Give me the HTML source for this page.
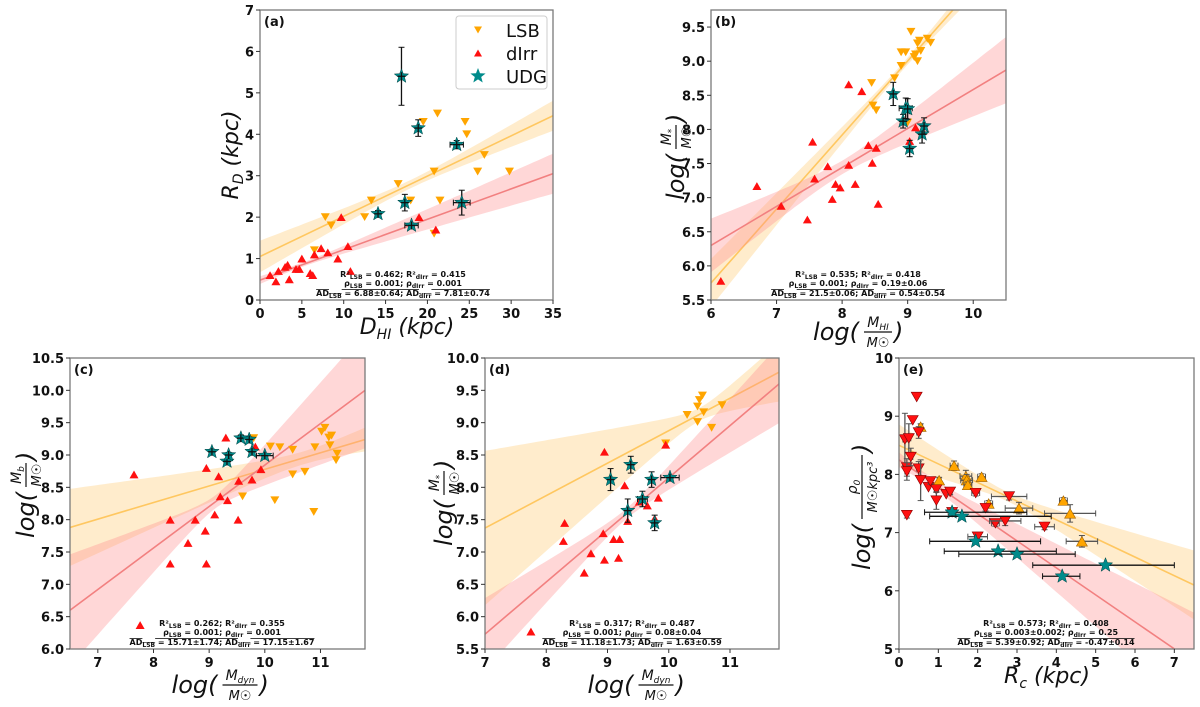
<!DOCTYPE html>
<html><head><meta charset="utf-8"><title>Scaling relations of LSB, dIrr and UDG galaxies</title>
<style>
html,body{margin:0;padding:0;background:#fff;}
svg{display:block;font-family:"DejaVu Sans","Liberation Sans",sans-serif;}
.tick{font-size:13px;font-weight:bold;fill:#111;}
.ann{font-size:8px;font-weight:bold;fill:#111;}
.lab{font-style:italic;fill:#111;}
</style></head>
<body>
<svg id="fig" width="1200" height="707" viewBox="0 0 1200 707" xmlns="http://www.w3.org/2000/svg">
<defs>
<clipPath id="clip-a"><rect x="260" y="10" width="293" height="290"/></clipPath>
<clipPath id="clip-b"><rect x="711" y="10" width="295" height="290"/></clipPath>
<clipPath id="clip-c"><rect x="70" y="358" width="295" height="291"/></clipPath>
<clipPath id="clip-d"><rect x="485" y="358" width="294" height="291"/></clipPath>
<clipPath id="clip-e"><rect x="899" y="358" width="295" height="291"/></clipPath>
</defs>
</svg>
<script>
// ---------- Panel (a): R_D vs D_HI ----------
const aLsbX=[6.5,7.8,8.5,12.5,13.3,16.5,18,19.5,20.8,21.2,21.5,20.8,24.5,24.7,26,26.8,29.8];
const aLsbY=[1.2,2.0,1.8,2.0,2.4,2.8,2.4,4.3,3.1,4.5,2.4,1.6,4.3,4.0,3.1,3.5,3.1];
const aIrrX=[1.2,1.9,2.2,3,3.3,3.5,4.3,4.7,5,6,6.3,6.5,7.3,8.1,9.3,9.7,10.5,10.8,19,21];
const aIrrY=[0.6,0.45,0.7,0.8,0.85,0.5,0.75,0.75,1.0,0.65,0.6,1.1,1.25,1.15,1.0,2.0,1.3,0.7,2.0,1.7];
const aUdgX=[14.1,16.9,17.3,18.1,18.9,23.5,24.1];
const aUdgY=[2.08,5.4,2.35,1.8,4.15,3.75,2.35];
const aUdgXe=[0.3,0,0,0.8,0,0.8,1.0];
const aUdgYe=[0.08,0.7,0.2,0.05,0.2,0.1,0.3];
const aFitLsb=[0.0971,1.05,18,0.1,0.0205];  // slope, intercept, xmean, w0, k
const aFitIrr=[0.0734,0.48,5,0.05,0.016];
const aTicksX=[0,5,10,15,20,25,30,35];
const aTicksY=[0,1,2,3,4,5,6,7];
const aAnn=["R²LSB = 0.462;   R²dIrr = 0.415","ρLSB = 0.001;   ρdIrr = 0.001","ADLSB = 6.88±0.64;   ADdIrr = 7.81±0.74"];

// ---------- Panel (b): log M* vs log MHI ----------
const bLsbX=[8.45,8.47,8.52,8.8,8.9,8.9,8.97,9.0,9.05,9.1,9.12,9.15,9.15,9.18,9.2,9.3,9.35];
const bLsbY=[8.68,8.35,8.28,8.75,8.93,9.13,9.13,8.1,9.43,9.06,9.1,9.0,9.26,9.3,9.15,9.33,9.27];
const bIrrX=[6.15,6.7,7.07,7.47,7.55,7.58,7.78,7.85,7.9,7.97,8.1,8.1,8.2,8.3,8.4,8.46,8.52,8.55,9.03,9.12];
const bIrrY=[5.78,7.17,6.88,6.68,7.82,7.28,7.46,6.98,7.2,7.15,8.66,7.48,7.2,8.56,7.77,7.51,7.73,6.91,7.83,8.03];
const bUdgX=[8.78,8.93,8.97,9.0,9.03,9.22,9.25];
const bUdgY=[8.52,8.12,8.31,8.3,7.72,7.93,8.05];
const bUdgXe=[0,0,0.1,0,0,0,0];
const bUdgYe=[0.17,0.1,0.15,0.15,0.12,0.13,0.12];
const bFitLsb=[1.084,-0.754,8.9,0.05,0.12];
const bFitIrr=[0.571,2.874,8.0,0.1,0.19];
const bTicksX=[6,7,8,9,10];
const bTicksY=[5.5,6.0,6.5,7.0,7.5,8.0,8.5,9.0,9.5];
const bAnn=["R²LSB = 0.535;   R²dIrr = 0.418","ρLSB = 0.001;   ρdIrr = 0.19±0.06","ADLSB = 21.5±0.06;   ADdIrr = 0.54±0.54"];

// ---------- Panel (c): log Mb vs log Mdyn ----------
const cLsbX=[9.6,9.8,10.1,10.18,10.27,10.5,10.5,10.72,10.88,10.9,11.02,11.08,11.15,11.17,11.2,11.28,11.3];
const cLsbY=[8.36,9.26,9.13,8.3,9.12,9.08,8.7,8.74,8.12,9.12,9.36,9.42,9.27,9.15,9.3,8.92,9.02];
const cIrrX=[7.65,8.3,8.3,8.62,8.75,8.93,8.95,8.95,9.1,9.17,9.2,9.3,9.33,9.52,9.53,9.77,9.83,9.93,7.76];
const cIrrY=[8.7,8.0,7.32,7.64,8.0,7.83,8.8,7.32,8.08,8.67,8.36,9.27,8.3,8.0,8.6,8.62,9.13,8.78,6.37];
const cUdgX=[9.05,9.32,9.35,9.57,9.72,9.77,10.0];
const cUdgY=[9.05,8.9,9.0,9.26,9.24,9.05,8.99];
const cUdgXe=[0,0,0,0.05,0,0,0.15];
const cUdgYe=[0.04,0.04,0.04,0.05,0.04,0.04,0.03];
const cFitLsb=[0.2566,6.212,10.7,0.1,0.14];
const cFitIrr=[0.6415,2.43,9.1,0.1,0.33];
const cTicksX=[7,8,9,10,11];
const cTicksY=[6.0,6.5,7.0,7.5,8.0,8.5,9.0,9.5,10.0,10.5];
const cAnn=["R²LSB = 0.262;   R²dIrr = 0.355","ρLSB = 0.001;   ρdIrr = 0.001","ADLSB = 15.71±1.74;   ADdIrr = 17.15±1.67"];

// ---------- Panel (d): log M* vs log Mdyn ----------
const dLsbX=[9.95,10.3,10.47,10.47,10.5,10.55,10.57,10.7,10.87];
const dLsbY=[8.68,9.12,9.01,9.25,9.35,9.42,9.16,8.92,9.27];
const dIrrX=[7.75,8.28,8.3,8.62,8.73,8.93,8.95,8.95,9.1,9.18,9.2,9.28,9.33,9.52,9.65,9.77,9.83,9.95];
const dIrrY=[5.77,7.17,7.45,6.68,6.98,7.29,8.55,6.88,7.2,6.91,7.2,8.03,7.48,7.78,7.72,7.52,7.84,8.66];
const dUdgX=[9.05,9.33,9.38,9.57,9.72,9.77,10.02];
const dUdgY=[8.12,7.64,8.35,7.82,8.12,7.45,8.15];
const dUdgXe=[0,0,0,0.08,0,0,0.15];
const dUdgYe=[0.17,0.18,0.13,0.12,0.12,0.12,0.02];
const dFitLsb=[0.502,3.856,10.5,0.1,0.34];
const dFitIrr=[0.806,0.088,9.3,0.08,0.24];
const dTicksX=[7,8,9,10,11];
const dTicksY=[5.5,6.0,6.5,7.0,7.5,8.0,8.5,9.0,9.5,10.0];
const dAnn=["R²LSB = 0.317;   R²dIrr = 0.487","ρLSB = 0.001;   ρdIrr = 0.08±0.04","ADLSB = 11.18±1.73;   ADdIrr = 1.63±0.59"];

// ---------- Panel (e): log rho0 vs Rc ----------
const eIrrX=[0.15,0.2,0.2,0.2,0.25,0.3,0.35,0.45,0.5,0.5,0.55,0.75,0.8,0.95,0.95,1.2,1.3,1.95,2.2,2.45,2.7,2.8,2.0,3.7,1.35];
const eIrrY=[8.6,8.12,8.05,7.3,8.62,8.3,8.93,9.33,8.72,8.1,7.9,7.78,7.88,7.74,7.55,7.66,7.7,7.68,7.42,7.16,7.2,7.62,6.93,7.1,7.35];
const eIrrXe=[0.05,0.05,0.05,0,0.05,0.05,0,0,0.05,0.05,0,0,0.05,0.05,0,0,0.05,0.1,0,0.1,0.4,0.45,0.25,0.25,0.1];
const eIrrYe=[0.45,0.15,0.15,0.05,0.25,0.15,0,0,0.1,0.12,0.35,0,0.05,0.05,0.15,0,0.05,0.05,0.05,0.05,0.08,0.06,0.05,0.05,0.05];
const eLsbX=[0.55,1.02,1.4,1.7,1.72,1.75,2.1,2.28,3.05,4.18,4.35,4.65];
const eLsbY=[8.82,7.9,8.15,7.97,7.9,7.82,7.96,7.5,7.42,7.55,7.33,6.85];
const eLsbXe=[0.05,0.05,0.1,0.15,0.15,0.1,0.1,0.1,0.35,0.1,0.65,0.4];
const eLsbYe=[0.05,0.05,0.08,0.1,0.1,0.05,0.05,0.05,0.1,0.05,0.15,0.1];
const eUdgX=[1.35,1.6,1.95,2.52,3.0,4.15,5.25];
const eUdgY=[7.35,7.28,6.85,6.68,6.63,6.25,6.44];
const eUdgXlo=[0.65,0.78,0.78,1.15,1.52,3.65,3.4];
const eUdgXhi=[3.25,3.87,3.6,4.0,4.48,4.6,7.0];
const eFitLsb=[-0.32,8.5,2.8,0.08,0.125];
const eFitIrr=[-0.464,8.25,0.8,0.08,0.127];
const eTicksX=[0,1,2,3,4,5,6,7];
const eTicksY=[5,6,7,8,9,10];
const eAnn=["R²LSB = 0.573;   R²dIrr = 0.408","ρLSB = 0.003±0.002;   ρdIrr = 0.25","ADLSB = 5.39±0.92;   ADdIrr = -0.47±0.14"];

const NS="http://www.w3.org/2000/svg";
const svg=document.getElementById('fig');
function el(tag,attrs,parent){const e=document.createElementNS(NS,tag);for(const k in attrs)e.setAttribute(k,attrs[k]);(parent||svg).appendChild(e);return e;}

const LSB_C="#FFA500", IRR_C="#FF1010", UDG_C="#008B8B";
const LSB_LINE="#FFC760", IRR_LINE="#F28080";
const LSB_BAND="rgba(255,200,110,0.35)", IRR_BAND="rgba(255,140,140,0.35)";

function starPath(cx,cy,r){let d="";for(let i=0;i<10;i++){const rr=i%2?r*0.42:r;const a=-Math.PI/2+i*Math.PI/5;d+=(i?"L":"M")+(cx+rr*Math.cos(a)).toFixed(1)+","+(cy+rr*Math.sin(a)).toFixed(1);}return d+"Z";}
function triPath(cx,cy,s,down){const h=s*0.87;return down?`M${cx-s/2},${cy-h/2}L${cx+s/2},${cy-h/2}L${cx},${cy+h/2}Z`:`M${cx-s/2},${cy+h/2}L${cx+s/2},${cy+h/2}L${cx},${cy-h/2}Z`;}

function panel(P){
  const g=el('g',{});
  
  
  const sx=v=>P.x0+(v-P.xmin)/(P.xmax-P.xmin)*(P.x1-P.x0);
  const sy=v=>P.y1-(v-P.ymin)/(P.ymax-P.ymin)*(P.y1-P.y0);
  const plot=el('g',{'clip-path':'url(#clip-'+P.id+')'},g);
  
  
  [[P.fitLsb,LSB_BAND,LSB_LINE,'lsb'],[P.fitIrr,IRR_BAND,IRR_LINE,'dirr']].forEach(([f,bc,lc,nm])=>{
    const up=[],lo=[];const N=60;
    for(let i=0;i<=N;i++){const x=P.xmin+(P.xmax-P.xmin)*i/N;const y=f[0]*x+f[1];const w=Math.sqrt(f[3]*f[3]+f[4]*f[4]*(x-f[2])*(x-f[2]));up.push(sx(x).toFixed(1)+","+sy(y+w).toFixed(1));lo.unshift(sx(x).toFixed(1)+","+sy(y-w).toFixed(1));}
    const b=el('polygon',{points:up.concat(lo).join(" "),fill:bc,stroke:'none'},plot);
    
    
    const l=el('line',{x1:sx(P.xmin),y1:sy(f[0]*P.xmin+f[1]),x2:sx(P.xmax),y2:sy(f[0]*P.xmax+f[1]),stroke:lc,'stroke-width':1.6},plot);
    
    
  });
  const big=P.id==='e';
  const ebar=(x,y,xe,ye,col,xlo,xhi)=>{
    if(xlo!==undefined){const e=el('line',{x1:sx(xlo),y1:sy(y),x2:sx(xhi),y2:sy(y),stroke:col,'stroke-width':1.3},plot);
      
      
      el('line',{x1:sx(xlo),y1:sy(y)-3,x2:sx(xlo),y2:sy(y)+3,stroke:col,'stroke-width':1},plot);el('line',{x1:sx(xhi),y1:sy(y)-3,x2:sx(xhi),y2:sy(y)+3,stroke:col,'stroke-width':1},plot);}
    if(xe>0){const e=el('line',{x1:sx(x-xe),y1:sy(y),x2:sx(x+xe),y2:sy(y),stroke:col,'stroke-width':1.3},plot);
      
      
      el('line',{x1:sx(x-xe),y1:sy(y)-3,x2:sx(x-xe),y2:sy(y)+3,stroke:col,'stroke-width':1},plot);el('line',{x1:sx(x+xe),y1:sy(y)-3,x2:sx(x+xe),y2:sy(y)+3,stroke:col,'stroke-width':1},plot);}
    if(ye>0){const e=el('line',{x1:sx(x),y1:sy(y-ye),x2:sx(x),y2:sy(y+ye),stroke:col,'stroke-width':1.3},plot);
      
      
      el('line',{x1:sx(x)-3,y1:sy(y-ye),x2:sx(x)+3,y2:sy(y-ye),stroke:col,'stroke-width':1},plot);el('line',{x1:sx(x)-3,y1:sy(y+ye),x2:sx(x)+3,y2:sy(y+ye),stroke:col,'stroke-width':1},plot);}
  };
  P.lsbX.forEach((x,i)=>{
    if(P.lsbXe) ebar(x,P.lsbY[i],P.lsbXe[i],P.lsbYe[i],'#555');
    const m=el('path',{d:triPath(sx(x),sy(P.lsbY[i]),big?11:9,!big),fill:LSB_C,stroke:big?'#a06000':'none','stroke-width':0.6},plot);
    
    
  });
  P.irrX.forEach((x,i)=>{
    if(P.irrXe) ebar(x,P.irrY[i],P.irrXe[i],P.irrYe[i],'#555');
    const m=el('path',{d:triPath(sx(x),sy(P.irrY[i]),big?11:9,big),fill:IRR_C,stroke:big?'#800':'none','stroke-width':0.6},plot);
    
    
  });
  P.udgX.forEach((x,i)=>{
    if(P.udgXlo) ebar(x,P.udgY[i],0,0,'#111',P.udgXlo[i],P.udgXhi[i]);
    else ebar(x,P.udgY[i],P.udgXe[i],P.udgYe[i],'#111');
    const m=el('path',{d:starPath(sx(x),sy(P.udgY[i]),7.5),fill:UDG_C,stroke:'#044','stroke-width':0.5},plot);
    
    
    if(!P.udgXlo){el('line',{x1:sx(x),y1:sy(P.udgY[i])-4,x2:sx(x),y2:sy(P.udgY[i])+4,stroke:'#111','stroke-width':1.3},plot);el('line',{x1:sx(x)-4,y1:sy(P.udgY[i]),x2:sx(x)+4,y2:sy(P.udgY[i]),stroke:'#111','stroke-width':1.3},plot);}
  });
  const fr=el('rect',{x:P.x0,y:P.y0,width:P.x1-P.x0,height:P.y1-P.y0,fill:'none',stroke:'#7a7a7a','stroke-width':1.3},g);
  
  
  P.ticksX.forEach(t=>{const x=sx(t);el('line',{x1:x,y1:P.y1,x2:x,y2:P.y1+4,stroke:'#333','stroke-width':1},g);
    const tx=el('text',{x:x,y:P.y1+18,'text-anchor':'middle',class:'tick'},g);tx.textContent=P.fmtX(t);
    
    });
  P.ticksY.forEach(t=>{const y=sy(t);el('line',{x1:P.x0-4,y1:y,x2:P.x0,y2:y,stroke:'#333','stroke-width':1},g);
    const tx=el('text',{x:P.x0-6,y:y+5,'text-anchor':'end',class:'tick'},g);tx.textContent=P.fmtY(t);
    
    });
  const pl=el('text',{x:P.x0+4,y:P.y0+16,class:'tick'},g);pl.textContent='('+P.id+')';
  
  
  const cx=P.annX, ys=[P.y1-23,P.y1-14,P.y1-4];
  P.ann.forEach((s,i)=>{
    const t=el('text',{x:cx,y:ys[i],'text-anchor':'middle',class:'ann'},g);
    
    
    const parts=s.split(/(LSB|dIrr)/);
    parts.forEach(p=>{const sp=el('tspan',{},t);
      if(p==='LSB'||p==='dIrr'){sp.setAttribute('font-size','6');sp.setAttribute('dy','2');sp.textContent=p;}
      else{sp.setAttribute('dy',t.childNodes.length>1?'-2':'0');sp.textContent=p;}});
    if(i===2){t.setAttribute('text-decoration','overline');}
  });
}

const f0=v=>String(v), f1=v=>v.toFixed(1);
panel({id:'a',x0:260,x1:553,y0:10,y1:300,xmin:0,xmax:35,ymin:0,ymax:7,ticksX:aTicksX,ticksY:aTicksY,fmtX:f0,fmtY:f0,
  lsbX:aLsbX,lsbY:aLsbY,irrX:aIrrX,irrY:aIrrY,udgX:aUdgX,udgY:aUdgY,udgXe:aUdgXe,udgYe:aUdgYe,fitLsb:aFitLsb,fitIrr:aFitIrr,ann:aAnn,annX:403});
panel({id:'b',x0:711,x1:1006,y0:10,y1:300,xmin:6,xmax:10.5,ymin:5.5,ymax:9.75,ticksX:bTicksX,ticksY:bTicksY,fmtX:f0,fmtY:f1,
  lsbX:bLsbX,lsbY:bLsbY,irrX:bIrrX,irrY:bIrrY,udgX:bUdgX,udgY:bUdgY,udgXe:bUdgXe,udgYe:bUdgYe,fitLsb:bFitLsb,fitIrr:bFitIrr,ann:bAnn,annX:858});
panel({id:'c',x0:70,x1:365,y0:358,y1:649,xmin:6.5,xmax:11.8,ymin:6,ymax:10.5,ticksX:cTicksX,ticksY:cTicksY,fmtX:f0,fmtY:f1,
  lsbX:cLsbX,lsbY:cLsbY,irrX:cIrrX,irrY:cIrrY,udgX:cUdgX,udgY:cUdgY,udgXe:cUdgXe,udgYe:cUdgYe,fitLsb:cFitLsb,fitIrr:cFitIrr,ann:cAnn,annX:222});
panel({id:'d',x0:485,x1:779,y0:358,y1:649,xmin:7,xmax:11.8,ymin:5.5,ymax:10,ticksX:dTicksX,ticksY:dTicksY,fmtX:f0,fmtY:f1,
  lsbX:dLsbX,lsbY:dLsbY,irrX:dIrrX,irrY:dIrrY,udgX:dUdgX,udgY:dUdgY,udgXe:dUdgXe,udgYe:dUdgYe,fitLsb:dFitLsb,fitIrr:dFitIrr,ann:dAnn,annX:632});
panel({id:'e',x0:899,x1:1194,y0:358,y1:649,xmin:0,xmax:7.5,ymin:5,ymax:10,ticksX:eTicksX,ticksY:eTicksY,fmtX:f0,fmtY:f0,
  lsbX:eLsbX,lsbY:eLsbY,lsbXe:eLsbXe,lsbYe:eLsbYe,irrX:eIrrX,irrY:eIrrY,irrXe:eIrrXe,irrYe:eIrrYe,udgX:eUdgX,udgY:eUdgY,udgXlo:eUdgXlo,udgXhi:eUdgXhi,fitLsb:eFitLsb,fitIrr:eFitIrr,ann:eAnn,annX:1046});

const lg=el('g',{});


el('rect',{x:456,y:16,width:91,height:73,rx:3,fill:'#fff',stroke:'#ccc','stroke-width':1},lg);
[['LSB',30],['dIrr',53],['UDG',76]].forEach(([n,y],i)=>{
  const e=el('g',{},lg);
  
  
  if(i===0) el('path',{d:triPath(478,y,8,true),fill:LSB_C},e);
  if(i===1) el('path',{d:triPath(478,y,8,false),fill:IRR_C},e);
  if(i===2) el('path',{d:starPath(478,y,8),fill:UDG_C},e);
  const t=el('text',{x:506,y:y+7,'font-size':18,fill:'#111'},e);t.textContent=n;
});

function fracLabel(name,cx,cy,rot,num,numSub,den){
  const hw=Math.max(num.length*5+numSub.length*3.5, den.length*5)+2;
  const logW=48;
  const left=-logW, right=2*hw+18;
  const sh=-(left+right)/2;
  const g=el('g',{transform:`translate(${cx},${cy}) rotate(${rot}) translate(${sh},0)`});
  
  
  const t1=el('text',{x:0,y:8,'font-size':24,class:'lab','text-anchor':'end'},g);t1.textContent='log(';
  const fx=5+hw;
  const n=el('text',{x:fx,y:-5,'font-size':14,class:'lab','text-anchor':'middle'},g);
  n.textContent=num;
  if(numSub){const s=el('tspan',{'font-size':9,dy:3},n);s.textContent=numSub;}
  el('line',{x1:fx-hw,y1:0,x2:fx+hw,y2:0,stroke:'#111','stroke-width':1.2},g);
  const d=el('text',{x:fx,y:15,'font-size':13,class:'lab','text-anchor':'middle'},g);d.textContent=den;
  const t2=el('text',{x:fx+hw+2,y:8,'font-size':24,class:'lab'},g);t2.textContent=')';
}
function simpleLabel(name,cx,cy,rot,main,sub,rest){
  const t=el('text',{transform:`translate(${cx},${cy}) rotate(${rot})`,'text-anchor':'middle','font-size':22,class:'lab'});
  
  
  const a=el('tspan',{},t);a.textContent=main;
  const b=el('tspan',{'font-size':14,dy:5},t);b.textContent=sub;
  const c=el('tspan',{dy:-5},t);c.textContent=rest;
}
simpleLabel('y-axis-title-a',238,155,-90,'R','D',' (kpc)');
simpleLabel('x-axis-title-a',407,334,0,'D','HI',' (kpc)');
fracLabel('y-axis-title-b',676,157,-90,'M','*','M☉');
fracLabel('x-axis-title-b',858,332,0,'M','HI','M☉');
fracLabel('y-axis-title-c',26,495,-90,'M','b','M☉');
fracLabel('x-axis-title-c',220,685,0,'M','dyn','M☉');
fracLabel('y-axis-title-d',444,503,-90,'M','*','M☉');
fracLabel('x-axis-title-d',636,685,0,'M','dyn','M☉');
fracLabel('y-axis-title-e',862,507,-90,'ρ','0','M☉kpc³');
simpleLabel('x-axis-title-e',1047,683,0,'R','c',' (kpc)');
</script>
</body></html>
